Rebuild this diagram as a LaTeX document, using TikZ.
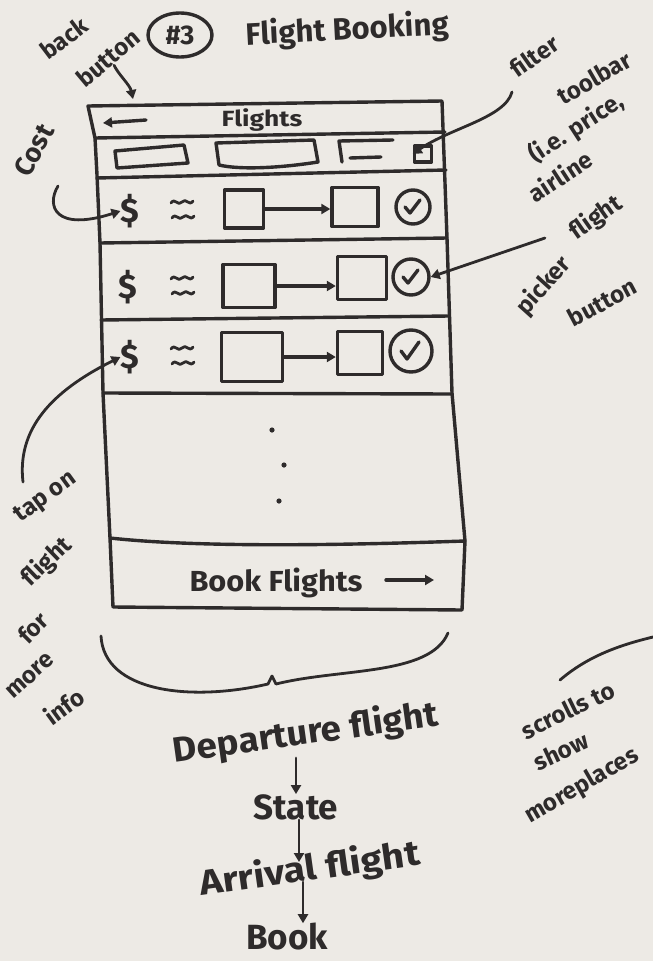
\documentclass[tikz,border=0pt]{standalone}
\usepackage{fontspec}
\setmainfont{Fira Sans}
\usetikzlibrary{arrows.meta,shapes.geometric}
\definecolor{paper}{HTML}{EDEAE5}
\definecolor{inkc}{HTML}{2E2B2B}

\tikzset{
  ink/.style={draw=inkc, line width=3.4pt, line cap=round, line join=round},
  pen/.style={draw=inkc, line width=2.8pt, line cap=round, line join=round},
  arr/.style={-{Triangle[length=9pt,width=10pt]}},
  hand/.style={text=inkc, inner sep=0pt, font=\bfseries\fontsize{24}{26}\selectfont},
  big/.style={hand, font=\bfseries\fontsize{35}{37}\selectfont},
  flightbox/.style={ink, rectangle, inner sep=0pt},
  tick/.style={ink, circle, inner sep=0pt},
  dollar/.style={text=inkc, inner sep=0pt, font=\bfseries\fontsize{34}{34}\selectfont},
  wave/.pic={\draw[pen] (-11,1) .. controls (-7,-5) and (-4,5) .. (0,0) .. controls (4,-5) and (7,5) .. (11,-1);}
}

\begin{document}
\begin{tikzpicture}[x=1pt,y=-1pt]
\fill[paper] (0,0) rectangle (653,961);
\useasboundingbox (0,0) rectangle (653,961);

% ---------- title ----------
\node[ink, ellipse, minimum width=64pt, minimum height=44pt, inner sep=0pt,
      text=inkc, font=\bfseries\fontsize{27}{27}\selectfont] (num) at (180,35) {\#3};
\node[big, font=\bfseries\fontsize{31}{33}\selectfont, rotate=3, anchor=west] (title) at (246,36) {Flight Booking};

% ---------- phone frame ----------
\draw[ink] (88,106) -- (442,101) -- (447,238) -- (452,393) -- (465,541)
  -- (462,610) -- (113,607) -- (110,538) -- (103,393) -- (100,243)
  -- (97,175) -- (95,138) -- cycle;
\draw[ink] (95,138) -- (445,132);
\draw[ink] (97,178) -- (446,170);
\draw[ink] (100,243) -- (447,238);
\draw[ink] (101,320) -- (449,316);
\draw[ink] (103,393) -- (452,394);
\draw[ink] (110,538) .. controls (200,548) and (350,545) .. (465,541);

% header bar
\coordinate (backR) at (146,120);
\coordinate (backL) at (103,123);
\draw[ink, arr] (backR) -- (backL);
\node[hand, font=\bfseries\fontsize{22}{24}\selectfont, xscale=1.2] (hdr) at (262,120) {Flights};

% filter toolbar
\draw[ink] (115,151) -- (184,145) -- (188,163) -- (117,168) -- cycle;
\draw[ink] (216,143) -- (314,140) -- (318,162) .. controls (280,168) and (240,170) .. (219,165) -- cycle;
\draw[ink] (342,162) -- (339,141) -- (393,140);
\draw[ink] (350,158) -- (381,157);
\node[flightbox, minimum width=17pt, minimum height=16pt] (filt) at (423,154) {};

% ---------- flight rows ----------
% row 1
\node[dollar] (d1) at (130,211) {\$};
\pic at (182,202) {wave};
\pic at (183,217) {wave};
\node[flightbox, minimum width=39pt, minimum height=38pt] (a1) at (244,209) {};
\node[flightbox, minimum width=46pt, minimum height=39pt] (b1) at (355,207) {};
\node[tick, minimum size=34pt] (c1) at (413,207) {};
\draw[ink, arr] (a1.east) -- (a1.east -| b1.west);
\draw[ink] ([shift={(-8,0)}]c1.center) -- ++(5,6) -- ++(10,-13);

% row 2
\node[dollar] (d2) at (128,287) {\$};
\pic at (182,278) {wave};
\pic at (183,293) {wave};
\node[flightbox, minimum width=52pt, minimum height=43pt] (a2) at (249,286) {};
\node[flightbox, minimum width=49pt, minimum height=43pt] (b2) at (362,278) {};
\node[tick, minimum size=36pt] (c2) at (411,277) {};
\draw[ink, arr] (a2.east) -- (a2.east -| b2.west);
\draw[ink] ([shift={(-8,0)}]c2.center) -- ++(5,6) -- ++(10,-13);

% row 3
\node[dollar] (d3) at (130,357) {\$};
\pic at (182,348) {wave};
\pic at (183,363) {wave};
\node[flightbox, minimum width=61pt, minimum height=49pt] (a3) at (252,357) {};
\node[flightbox, minimum width=45pt, minimum height=43pt] (b3) at (360,353) {};
\node[tick, minimum size=42pt] (c3) at (411,351) {};
\draw[ink, arr] (a3.east) -- (a3.east -| b3.west);
\draw[ink] ([shift={(-10,0)}]c3.center) -- ++(6,8) -- ++(12,-17);

% more rows below
\fill[inkc] (272,430) circle (2.6);
\fill[inkc] (284,465) circle (2.6);
\fill[inkc] (279,501) circle (2.6);

% book button
\node[hand, font=\bfseries\fontsize{29}{31}\selectfont, xscale=1.06] (book) at (276,583) {Book Flights};
\coordinate (bookArrL) at (386,580);
\coordinate (bookArrR) at (434,580);
\draw[ink, arr] (bookArrL) -- (bookArrR);

% ---------- annotations ----------
\node[hand, rotate=37] (backtxt) at (64,38) {back};
\node[hand, rotate=40] (buttontxt) at (108,58) {button};
\coordinate (backTip) at (133,99);
\draw[pen, arr] (buttontxt.south) .. controls (118,74) and (130,85) .. (backTip);

\node[hand, rotate=62, font=\bfseries\fontsize{27}{29}\selectfont] (cost) at (34,150) {Cost};
\coordinate (costStart) at (58,186);
\draw[pen, arr] (costStart) .. controls (46,206) and (55,232) .. (d1.west);

\node[hand, rotate=35] (filt1) at (534,56) {filter};
\node[hand, rotate=30] (filt2) at (594,78) {toolbar};
\node[hand, rotate=33] (filt3) at (576,128) {(i.e. price,};
\node[hand, rotate=33] (filt4) at (560,176) {airline};
\coordinate (filtStart) at (512,92);
\draw[pen, arr] (filtStart) .. controls (505,118) and (450,128) .. (filt.west);

\node[hand, rotate=35] (pick1) at (596,218) {flight};
\node[hand, rotate=48] (pick2) at (544,286) {picker};
\node[hand, rotate=28] (pick3) at (602,302) {button};
\coordinate (pickStart) at (545,238);
\draw[pen, arr] (pickStart) -- (c2.east);

\node[hand, rotate=36] (tap1) at (46,498) {tap on};
\node[hand, rotate=44] (tap2) at (47,562) {flight};
\node[hand, rotate=45] (tap3) at (33,628) {for};
\node[hand, rotate=42] (tap4) at (30,676) {more};
\node[hand, rotate=36] (tap5) at (64,706) {info};
\coordinate (tapStart) at (23,482);
\draw[pen, arr] (tapStart) .. controls (17,430) and (50,392) .. (d3.west);

% brace under the screen
\draw[pen] (101,636) .. controls (104,692) and (190,702) .. (268,684)
  -- (272,676) -- (276,684) .. controls (340,668) and (430,676) .. (448,633);

\node[hand, rotate=26] (scr1) at (568,710) {scrolls to};
\node[hand, rotate=25] (scr2) at (561,751) {show};
\node[hand, rotate=30] (scr3) at (582,786) {moreplaces};
\coordinate (scrA) at (560,680);
\coordinate (scrB) at (653,637);
\draw[pen] (scrA) .. controls (588,656) and (620,645) .. (scrB);

% ---------- flow ----------
\node[big, rotate=8, xscale=1.05] (dep) at (306,734) {Departure flight};
\node[big] (state) at (296,807) {State};
\node[big, rotate=8, xscale=1.12] (arrv) at (310,870) {Arrival flight};
\node[big] (bk) at (287,937) {Book};
\coordinate (f1a) at (296,758);
\coordinate (f2b) at (299,862);
\coordinate (f3a) at (303,882);
\draw[pen, arr] (f1a) -- (state.north -| f1a);
\draw[pen, arr] (state.south -| f2b) -- (f2b);
\draw[pen, arr] (f3a) -- (bk.north -| f3a);
\end{tikzpicture}
\end{document}
